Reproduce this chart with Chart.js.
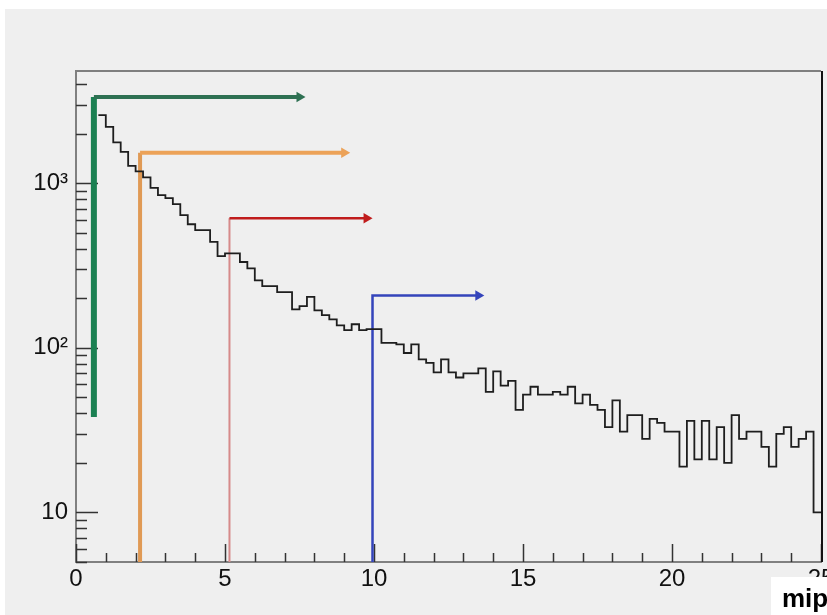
<!DOCTYPE html>
<html>
<head>
<meta charset="utf-8">
<script src="https://cdn.jsdelivr.net/npm/chart.js@4.4.1/dist/chart.umd.min.js"></script>
<style>
  html, body { margin: 0; padding: 0; background: #fff; }
  canvas { display: block; }
</style>
</head>
<body>
<canvas id="mipChart" width="827" height="615"></canvas>
<script>
// histogram: bins of 0.25 mip starting at 0.75
const binStart = 0.75;
const binWidth = 0.25;
const counts = [
  2590, 2200, 1770, 1550, 1275, 1180, 1085, 935, 846, 811,
  745, 639, 563, 518, 518, 440, 360, 375, 375, 332,
  304, 257, 237, 237, 218, 218, 171, 179, 204, 169,
  158, 149, 137, 128, 139, 128, 130, 130, 107, 107,
  105, 93, 105, 85, 81, 71, 85, 71, 66, 70,
  70, 75, 54, 72, 59, 63, 42, 52, 58, 52,
  52, 54, 52, 58, 46, 52, 45, 42, 33, 48,
  31, 39, 39, 28, 37, 35, 31, 31, 19, 36,
  21, 36, 21, 33, 20, 39, 28, 31, 31, 25,
  19, 30, 33, 25, 28, 31, 10
];

// cut lines with arrows
const cutX      = [0.6, 2.15, 5.15, 9.95];
const cutTop    = [3335, 1530, 612, 208];
const cutBottom = [38, 5, 5, 5];
const arrowEnd  = [7.5, 9.0, 9.75, 13.5];
const cutColor  = ['#2e7052', '#eca258', '#c01c1c', '#3444bb'];
const cutStem   = ['#1b8052', '#e09a55', '#d68a8a', '#3444bb'];
const cutStemW  = [6, 4, 2, 2.5];
const cutArmW   = [4, 4, 2.5, 2.5];

const xTicks = [0,1,2,3,4,5,6,7,8,9,10,11,12,13,14,15,16,17,18,19,20,21,22,23,24,25];
const xLabels = {0: '0', 5: '5', 10: '10', 15: '15', 20: '20', 25: '25'};
const yTicks = [5,6,7,8,9,10,20,30,40,50,60,70,80,90,100,200,300,400,500,600,700,800,900,1000,2000,3000,4000];
const yLabels = {10: '10', 100: '10\u00B2', 1000: '10\u00B3'};

const histPoints = [];
counts.forEach((c, i) => {
  const lo = binStart + i * binWidth;
  histPoints.push({x: lo, y: c});
  histPoints.push({x: lo + binWidth, y: c});
});

const datasets = [{
  data: histPoints,
  borderColor: '#1e1e1e',
  borderWidth: 1.8,
  pointRadius: 0,
  tension: 0
}];
cutX.forEach((cx, i) => {
  datasets.push({
    data: [{x: cx, y: cutBottom[i]}, {x: cx, y: cutTop[i]}, {x: arrowEnd[i], y: cutTop[i]}],
    borderColor: cutColor[i],
    segment: {
      borderColor: ctx => ctx.p0DataIndex === 0 ? cutStem[i] : cutColor[i],
      borderWidth: ctx => ctx.p0DataIndex === 0 ? cutStemW[i] : cutArmW[i]
    },
    borderWidth: cutArmW[i],
    pointRadius: [0, 0, 6],
    pointStyle: 'triangle',
    rotation: 90,
    pointBackgroundColor: cutColor[i],
    pointBorderWidth: 0,
    tension: 0
  });
});

const rootFrame = {
  id: 'rootFrame',
  beforeDraw(chart) {
    const ctx = chart.ctx;
    ctx.save();
    ctx.fillStyle = '#ffffff';
    ctx.fillRect(0, 0, chart.width, chart.height);
    ctx.fillStyle = '#efefef';
    ctx.fillRect(5, 9, chart.width - 5, chart.height - 9);
    ctx.restore();
  },
  beforeDatasetsDraw(chart) {
    const {ctx, chartArea: a, scales: {x, y}} = chart;
    ctx.save();
    ctx.strokeStyle = '#333';
    ctx.lineWidth = 1.5;
    ctx.beginPath();
    xTicks.forEach(v => {
      const px = Math.round(x.getPixelForValue(v)) + 0.5;
      const len = v % 5 === 0 ? 18 : 9;
      ctx.moveTo(px, a.bottom);
      ctx.lineTo(px, a.bottom - len);
    });
    yTicks.forEach(v => {
      const py = Math.round(y.getPixelForValue(v)) + 0.5;
      const len = yLabels[v] ? 22 : 11;
      ctx.moveTo(a.left, py);
      ctx.lineTo(a.left + len, py);
    });
    ctx.stroke();
    ctx.lineWidth = 2;
    ctx.strokeStyle = '#7f7f7f';
    ctx.beginPath();
    ctx.moveTo(a.left - 1, a.top);
    ctx.lineTo(a.right, a.top);
    ctx.stroke();
    ctx.strokeStyle = '#111';
    ctx.beginPath();
    ctx.moveTo(a.right + 1, a.top);
    ctx.lineTo(a.right + 1, a.bottom);
    ctx.stroke();
    ctx.restore();
  },
  afterDraw(chart) {
    const ctx = chart.ctx;
    ctx.save();
    ctx.fillStyle = '#ffffff';
    ctx.fillRect(771, 577, chart.width - 771, chart.height - 577);
    ctx.fillStyle = '#000';
    ctx.font = 'bold 26px "Liberation Sans", Arial, sans-serif';
    ctx.textBaseline = 'alphabetic';
    ctx.fillText('mip', 782, 607);
    ctx.restore();
  }
};

const tickFont = {family: '"Liberation Sans Narrow", "Liberation Sans", Arial, sans-serif', size: 24};

new Chart(document.getElementById('mipChart').getContext('2d'), {
  type: 'line',
  data: {datasets: datasets},
  plugins: [rootFrame],
  options: {
    responsive: false,
    maintainAspectRatio: false,
    animation: false,
    layout: {padding: {top: 71, right: 3, left: 0, bottom: 0}},
    plugins: {legend: {display: false}, tooltip: {enabled: false}},
    scales: {
      x: {
        type: 'linear',
        min: 0,
        max: 25,
        afterBuildTicks: s => { s.ticks = xTicks.map(v => ({value: v})); },
        afterFit: s => { s.height = 53; s.paddingLeft = 0; s.paddingRight = 0; },
        grid: {display: true, drawOnChartArea: false, drawTicks: false},
        border: {display: true, color: '#808080', width: 2},
        ticks: {
          autoSkip: false,
          maxRotation: 0,
          padding: 3,
          color: '#111',
          font: tickFont,
          callback: v => xLabels[v] || ''
        }
      },
      y: {
        type: 'logarithmic',
        min: 5,
        max: 4800,
        afterBuildTicks: s => { s.ticks = yTicks.map(v => ({value: v})); },
        afterFit: s => { s.width = 76; s.paddingTop = 0; s.paddingBottom = 0; },
        grid: {display: true, drawOnChartArea: false, drawTicks: false},
        border: {display: true, color: '#808080', width: 2},
        ticks: {
          autoSkip: false,
          padding: 8,
          color: '#111',
          font: tickFont,
          callback: v => yLabels[v] || ''
        }
      }
    }
  }
});
</script>
</body>
</html>
